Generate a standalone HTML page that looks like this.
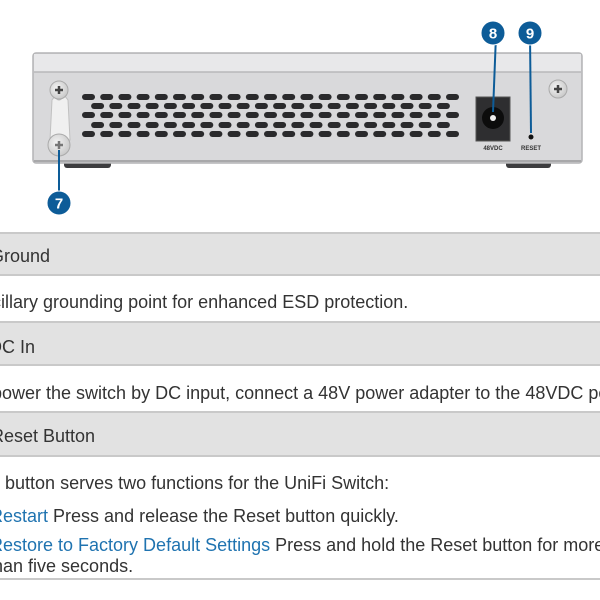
<!DOCTYPE html>
<html><head><meta charset="utf-8"><style>
html,body{margin:0;width:600px;height:600px;overflow:hidden;background:#fff;}
#wrap{position:relative;width:600px;height:600px;overflow:hidden;font-family:"Liberation Sans",Arial,sans-serif;}
.t{position:absolute;font-size:18px;line-height:20px;color:#333;white-space:nowrap;}
.h{position:absolute;left:0;width:600px;background:#e2e2e2;border-top:2px solid #c9c9c9;border-bottom:2px solid #c9c9c9;box-sizing:border-box;}
.l{position:absolute;left:0;width:600px;height:2px;background:#c9c9c9;}
a{color:#1f73b0;text-decoration:none;}
</style></head><body><div id="wrap">
<svg width="600" height="230" style="position:absolute;left:0;top:0">
<defs>
<radialGradient id="sc" cx="0.4" cy="0.4" r="0.7"><stop offset="0" stop-color="#f4f4f4"/><stop offset="1" stop-color="#c4c4c4"/></radialGradient>
<g id="odd" fill="#2a2a2c"><rect x="82" y="0" width="13" height="6" rx="3"/><rect x="100.2" y="0" width="13" height="6" rx="3"/><rect x="118.4" y="0" width="13" height="6" rx="3"/><rect x="136.6" y="0" width="13" height="6" rx="3"/><rect x="154.8" y="0" width="13" height="6" rx="3"/><rect x="173" y="0" width="13" height="6" rx="3"/><rect x="191.2" y="0" width="13" height="6" rx="3"/><rect x="209.4" y="0" width="13" height="6" rx="3"/><rect x="227.6" y="0" width="13" height="6" rx="3"/><rect x="245.8" y="0" width="13" height="6" rx="3"/><rect x="264" y="0" width="13" height="6" rx="3"/><rect x="282.2" y="0" width="13" height="6" rx="3"/><rect x="300.4" y="0" width="13" height="6" rx="3"/><rect x="318.6" y="0" width="13" height="6" rx="3"/><rect x="336.8" y="0" width="13" height="6" rx="3"/><rect x="355" y="0" width="13" height="6" rx="3"/><rect x="373.2" y="0" width="13" height="6" rx="3"/><rect x="391.4" y="0" width="13" height="6" rx="3"/><rect x="409.6" y="0" width="13" height="6" rx="3"/><rect x="427.8" y="0" width="13" height="6" rx="3"/><rect x="446" y="0" width="13" height="6" rx="3"/></g>
<clipPath id="ce"><rect x="85" y="0" width="370" height="200"/></clipPath>
</defs>
<rect x="64" y="158" width="47" height="10" rx="3" fill="#3c3c3e"/>
<rect x="506" y="158" width="45" height="10" rx="3" fill="#3c3c3e"/>
<rect x="33" y="53" width="549" height="110" rx="3" fill="#d9d9db" stroke="#b4b4b6" stroke-width="1.5"/>
<rect x="34" y="54" width="547" height="18" fill="#e8e8ea"/>
<line x1="34" y1="72" x2="581" y2="72" stroke="#b8b8ba" stroke-width="1.5"/>
<line x1="34" y1="161" x2="581" y2="161" stroke="#a8a8aa" stroke-width="2"/>
<use href="#odd" y="94"/>
<use href="#odd" y="112"/>
<use href="#odd" y="131"/>
<g clip-path="url(#ce)"><use href="#odd" x="9.1" y="103"/><use href="#odd" x="9.1" y="122"/></g>
<path d="M52 100 Q60 88 68 100 L70 140 L50 140 Z" fill="#f0f0f0" stroke="#c0c0c0"/>
<circle cx="59" cy="97" r="3" fill="#d9d9db" stroke="#bbb"/>
<circle cx="59" cy="90" r="9" fill="url(#sc)" stroke="#aaa"/>
<path d="M55 90h8M59 86v8" stroke="#444" stroke-width="2.5"/>
<circle cx="59" cy="145" r="11" fill="url(#sc)" stroke="#aaa"/>
<path d="M55 145h8M59 141v8" stroke="#777" stroke-width="2.5"/>
<circle cx="558" cy="89" r="9" fill="url(#sc)" stroke="#aaa"/>
<path d="M554 89h8M558 85v8" stroke="#444" stroke-width="2.5"/>
<rect x="476" y="97" width="34" height="44" fill="#2e2e30" stroke="#555"/>
<circle cx="493" cy="118" r="11" fill="#0c0c0c"/>
<circle cx="493" cy="118" r="3" fill="#eee"/>
<text x="493" y="150" font-size="6" font-weight="bold" text-anchor="middle" fill="#333" font-family="Liberation Sans,sans-serif">48VDC</text>
<circle cx="531" cy="137" r="2.5" fill="#111"/>
<text x="531" y="150" font-size="6" font-weight="bold" text-anchor="middle" fill="#333" font-family="Liberation Sans,sans-serif">RESET</text>
<g stroke="#0d5c98" stroke-width="2">
<line x1="496" y1="35" x2="493" y2="112"/>
<line x1="530" y1="35" x2="531" y2="133"/>
<line x1="59" y1="150" x2="59" y2="203"/>
</g>
<g fill="#0d5c98" stroke="#fff" stroke-width="1">
<circle cx="493" cy="33" r="12"/><circle cx="530" cy="33" r="12"/><circle cx="59" cy="203" r="12"/>
</g>
<g fill="#fff" font-size="15" font-weight="bold" text-anchor="middle" font-family="Liberation Sans,sans-serif">
<text x="493" y="38.5">8</text><text x="530" y="38.5">9</text><text x="59" y="208.5">7</text>
</g>
</svg>

<div class="h" style="top:232px;height:44px"></div>
<div class="t" style="left:-10px;top:246px">Ground</div>
<div class="t" style="left:-30px;top:292px">Ancillary grounding point for enhanced ESD protection.</div>
<div class="h" style="top:321px;height:45px"></div>
<div class="t" style="left:-11px;top:337px">DC In</div>
<div class="t" style="left:-32px;top:383px">To power the switch by DC input, connect a 48V power adapter to the 48VDC port.</div>
<div class="h" style="top:411px;height:46px"></div>
<div class="t" style="left:-9px;top:426px">Reset Button</div>
<div class="t" style="left:-31px;top:473px">The button serves two functions for the UniFi Switch:</div>
<div class="t" style="left:-10px;top:506px"><a>Restart</a> Press and release the Reset button quickly.</div>
<div class="t" style="left:-10px;top:535px"><a>Restore to Factory Default Settings</a> Press and hold the Reset button for more</div>
<div class="t" style="left:-12px;top:556px">than five seconds.</div>
<div class="l" style="top:578px"></div>
</div></body></html>
